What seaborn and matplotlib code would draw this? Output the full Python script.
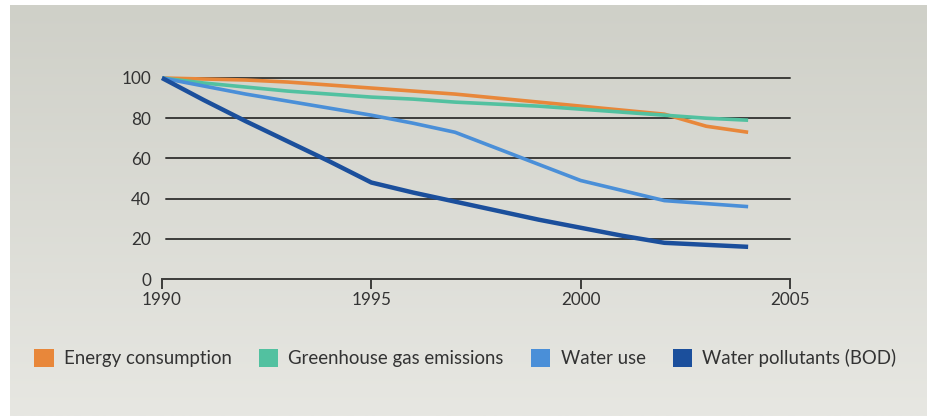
import numpy as np
import pandas as pd
import matplotlib
matplotlib.use("Agg")
import matplotlib.pyplot as plt
from matplotlib.patches import Patch
import seaborn as sns

years = list(range(1990, 2005))
energy = [100, 99.5, 99, 98, 96.5, 95, 93.5, 92, 90, 88, 86, 84, 82, 76, 73]
greenhouse = [100, 97.5, 95.5, 93.5, 92, 90.5, 89.5, 88, 87, 86, 84.5, 83, 81.5, 80, 79]
water_use = [100, 96, 92, 88.5, 85, 81.5, 77.5, 73, 65, 57, 49, 44, 39, 37.5, 36]
pollutants = [100, 89, 78.5, 68.5, 58.5, 48, 43, 38.5, 34, 29.5, 25.5, 21.5, 18, 17, 16]

series_names = ["Energy consumption", "Greenhouse gas emissions",
                "Water use", "Water pollutants (BOD)"]
series_colors = ["#e8873a", "#52c1a0", "#4a8fd8", "#1b4f9c"]
x_ticks = [1990, 1995, 2000, 2005]
y_ticks = [0, 20, 40, 60, 80, 100]

df = pd.concat([
    pd.DataFrame({"year": years, "value": vals, "series": name})
    for name, vals in zip(series_names, [energy, greenhouse, water_use, pollutants])
])

sns.set_theme(style="white")
plt.rcParams["font.family"] = ["Lato", "DejaVu Sans"]

W, H = 928, 416
fig = plt.figure(figsize=(W / 100, H / 100), dpi=100, facecolor="white")

# soft gray panel behind the chart
bg = fig.add_axes([10 / W, 0, 1 - 10 / W, 1 - 5 / H], zorder=-10)
grad = np.linspace(0, 1, 256)[:, None]
top = np.array([207, 208, 200]) / 255
bot = np.array([231, 231, 226]) / 255
img = top[None, None, :] * (1 - grad[:, :, None]) + bot[None, None, :] * grad[:, :, None]
bg.imshow(img, aspect="auto", extent=[0, 1, 0, 1])
bg.axis("off")

ax = fig.add_axes([162 / W, 1 - 279 / H, (790 - 162) / W, (279 - 78) / H])
ax.set_facecolor("none")

sns.lineplot(data=df, x="year", y="value", hue="series", palette=series_colors,
             hue_order=series_names, ax=ax, legend=False, linewidth=2.8)
for ln, lw in zip(ax.get_lines(), [2.6, 2.6, 2.6, 3.2]):
    ln.set_linewidth(lw)
    ln.set_clip_on(False)
    ln.set_solid_capstyle("butt")
    ln.set_solid_joinstyle("round")
    ln.set_zorder(3)

ax.set_xlim(1990, 2005)
ax.set_ylim(0, 100)
ax.set_xticks(x_ticks)
ax.set_yticks(y_ticks)
ax.set_xlabel("")
ax.set_ylabel("")

for y in y_ticks[1:]:
    ax.axhline(y, xmin=0.006, xmax=1, color="#3c3c3a", lw=1.4, zorder=1, clip_on=False)

for s in ["top", "right", "left"]:
    ax.spines[s].set_visible(False)
ax.spines["bottom"].set_color("#3c3c3a")
ax.spines["bottom"].set_linewidth(1.4)

ax.tick_params(axis="x", direction="out", length=7.5, width=1.4, color="#3c3c3a",
               labelsize=12.3, labelcolor="#333333", pad=2, bottom=True)
ax.tick_params(axis="y", length=0, labelsize=12.3, labelcolor="#333333", pad=8)

handles = [Patch(facecolor=c, edgecolor="none") for c in series_colors]
fig.legend(handles, series_names, loc="center left", bbox_to_anchor=(34 / W, 1 - 358 / H),
           ncol=4, frameon=False, fontsize=13.4, labelcolor="#333333",
           handlelength=1.05, handleheight=1.1, handletextpad=0.55,
           columnspacing=1.45, borderaxespad=0, borderpad=0)

fig.savefig("out.png", dpi=100, facecolor="white")
